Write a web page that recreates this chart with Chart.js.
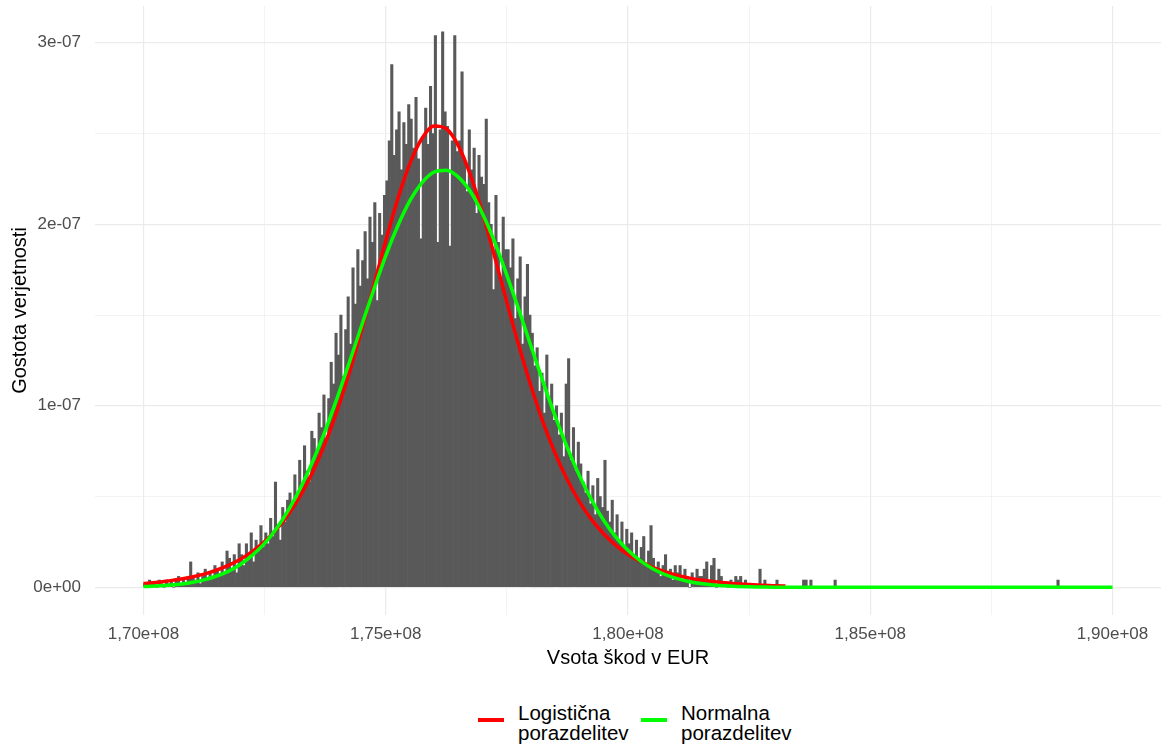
<!DOCTYPE html>
<html>
<head>
<meta charset="utf-8">
<script src="https://cdn.jsdelivr.net/npm/chart.js@4/dist/chart.umd.min.js"></script>
<style>
  body { margin: 0; background: #fff; font-family: "Liberation Sans", Arial, sans-serif; }
  #wrap { position: relative; width: 1161px; height: 747px; }
  canvas { position: absolute; left: 0; top: 0; }
  .swatch { position: absolute; width: 26px; height: 4px; top: 718px; }
  .label { position: absolute; top: 703px; font-size: 20.5px; line-height: 20px; color: #000; }
</style>
</head>
<body>
<div id="wrap">
  <canvas id="chart" width="1161" height="680"></canvas>
  <div class="swatch" style="left:478px;background:#FF0000"></div>
  <div class="label" style="left:518px">Logistična<br>porazdelitev</div>
  <div class="swatch" style="left:641px;background:#00FF00"></div>
  <div class="label" style="left:681px">Normalna<br>porazdelitev</div>
</div>
<script>
// x in millions of EUR, y in units of 1e-9
const binStart = 170;
const binWidth = 0.05;

// histogram density per bin
const histDensity = [
    2, 0, 4, 2, 2, 0, 4, 2, 0, 4,
    2, 4, 0, 4, 6, 2, 4, 2, 6, 14,
    6, 4, 8, 2, 6, 10, 4, 8, 6, 12,
    10, 6, 14, 8, 20, 16, 10, 18, 8, 24,
    18, 12, 24, 16, 30, 14, 26, 20, 34, 22,
    30, 24, 38, 28, 58, 32, 26, 44, 36, 48,
    52, 44, 62, 48, 70, 56, 78, 64, 58, 86,
    82, 74, 96, 88, 106, 80, 104, 124, 112, 140,
    128, 150, 116, 142, 160, 134, 176, 156, 186, 166,
    180, 196, 170, 204, 190, 212, 158, 206, 194, 216,
    224, 246, 288, 238, 252, 262, 230, 256, 244, 266,
    258, 242, 270, 236, 192, 248, 264, 244, 276, 250,
    304, 190, 252, 306, 262, 254, 188, 246, 304, 240,
    246, 284, 236, 218, 252, 230, 242, 206, 238, 226,
    222, 258, 212, 200, 164, 216, 190, 170, 204, 186,
    186, 176, 192, 148, 170, 182, 134, 160, 178, 150,
    140, 122, 132, 108, 118, 96, 128, 104, 112, 92,
    100, 84, 96, 72, 112, 126, 70, 88, 64, 80,
    68, 58, 52, 64, 46, 56, 40, 60, 50, 44,
    70, 42, 36, 48, 30, 40, 26, 36, 22, 32,
    24, 30, 18, 26, 14, 22, 28, 12, 20, 34,
    16, 10, 14, 6, 12, 18, 8, 10, 4, 12,
    8, 12, 4, 10, 6, 0, 8, 4, 10, 6,
    6, 10, 14, 4, 12, 16, 0, 10, 6, 2,
    2, 0, 4, 0, 6, 4, 6, 0, 4, 0,
    0, 0, 0, 0, 10, 0, 4, 0, 0, 0,
    0, 4, 0, 0, 0, 0, 0, 0, 0, 0,
    0, 0, 4, 4, 0, 4, 0, 0, 0, 0,
    0, 0, 0, 0, 0, 4, 0, 0, 0, 0
];
// lone bar far in the right tail
const tailBinX = [188.875];
const tailBinY = [4];

const curveX = [
    170, 170.25, 170.5, 170.75, 171, 171.25, 171.5, 171.75, 172, 172.25,
    172.5, 172.75, 173, 173.25, 173.5, 173.75, 174, 174.25, 174.5, 174.75,
    175, 175.25, 175.5, 175.75, 176, 176.25, 176.5, 176.75, 177, 177.25,
    177.5, 177.75, 178, 178.25, 178.5, 178.75, 179, 179.25, 179.5, 179.75,
    180, 180.25, 180.5, 180.75, 181, 181.25, 181.5, 181.75, 182, 182.25,
    182.5, 182.75, 183, 183.25
];
const logisY = [
    2.1, 2.7, 3.5, 4.4, 5.7, 7.3, 9.4, 12.1, 15.5, 19.8,
    25.2, 32.1, 40.6, 51.1, 64, 79.4, 97.6, 118.3, 141.4, 166,
    190.8, 214, 233.5, 247.4, 254.1, 252.6, 243.2, 227, 205.9, 182,
    157.1, 132.9, 110.6, 90.7, 73.6, 59.1, 47.1, 37.3, 29.4, 23.1,
    18.1, 14.4, 11.2, 8.7, 6.7, 5.2, 4.1, 3.2, 2.5, 1.9,
    1.5, 1.1, 0.9, 0.7
];
const normY = [
    0.4, 0.7, 1.1, 1.7, 2.7, 4.1, 6.1, 8.8, 12.6, 17.7,
    24.2, 32.6, 42.9, 55.3, 69.8, 86.2, 104.5, 124, 144, 163.8,
    182.6, 199.2, 213, 223, 228.8, 229.8, 226, 217.9, 205.7, 190.2,
    172, 152.7, 132.7, 112.9, 94, 76.8, 61.4, 48.1, 36.8, 27.7,
    20.4, 14.7, 10.4, 7.2, 4.9, 3.2, 2.1, 1.3, 0.8, 0.5,
    0.3, 0.2, 0.1, 0.05
];
const normTailX = [184, 186, 188, 190];
const normTailY = [0, 0, 0, 0];

const xTicks = [170, 172.5, 175, 177.5, 180, 182.5, 185, 187.5, 190];
const xTickLabels = ['1,70e+08', '', '1,75e+08', '', '1,80e+08', '', '1,85e+08', '', '1,90e+08'];
const yTicks = [0, 50, 100, 150, 200, 250, 300];
const yTickLabels = ['0e+00', '', '1e-07', '', '2e-07', '', '3e-07'];

const histPoints = histDensity.map((v, i) => ({ x: binStart + binWidth * (i + 0.5), y: v }))
    .concat(tailBinX.map((x, i) => ({ x: x, y: tailBinY[i] })));
const logisPoints = curveX.map((x, i) => ({ x: x, y: logisY[i] }));
const normPoints = curveX.map((x, i) => ({ x: x, y: normY[i] }))
    .concat(normTailX.map((x, i) => ({ x: x, y: normTailY[i] })));

const fontFamily = '"Liberation Sans", Arial, sans-serif';
const gridWidth = (ticks, labels) => ctx => {
    const i = ticks.indexOf(ctx.tick && ctx.tick.value);
    return i >= 0 && labels[i] !== '' ? 1.2 : 0.6;
};
// keep the panel edges where ggplot puts them
const noEdgePadding = s => {
    s.paddingTop = 0; s.paddingBottom = 0;
    s.paddingLeft = 0; s.paddingRight = 0;
};

new Chart(document.getElementById('chart'), {
    type: 'bar',
    data: {
        datasets: [
            {
                type: 'line',
                data: normPoints,
                borderColor: '#00FF00',
                borderWidth: 3.5,
                pointRadius: 0,
                cubicInterpolationMode: 'monotone',
                order: 0
            },
            {
                type: 'line',
                data: logisPoints,
                borderColor: '#FF0000',
                borderWidth: 3.5,
                pointRadius: 0,
                cubicInterpolationMode: 'monotone',
                order: 1
            },
            {
                type: 'bar',
                data: histPoints,
                backgroundColor: '#595959',
                borderWidth: 0,
                barPercentage: 1,
                categoryPercentage: 1,
                order: 2
            }
        ]
    },
    options: {
        responsive: false,
        animation: false,
        devicePixelRatio: 1,
        layout: { padding: { top: 6, right: 0, bottom: 0, left: 0 } },
        plugins: { legend: { display: false }, tooltip: { enabled: false } },
        scales: {
            x: {
                type: 'linear',
                min: 169,
                max: 191,
                offset: false,
                border: { display: false },
                grid: { offset: false, drawTicks: false, color: '#EBEBEB', lineWidth: gridWidth(xTicks, xTickLabels) },
                afterBuildTicks: s => { s.ticks = xTicks.map(v => ({ value: v })); },
                afterFit: s => { s.height = 65; noEdgePadding(s); },
                ticks: {
                    autoSkip: false,
                    maxRotation: 0,
                    padding: 9,
                    color: '#4D4D4D',
                    font: { family: fontFamily, size: 17 },
                    callback: v => xTickLabels[xTicks.indexOf(v)] ?? ''
                },
                title: {
                    display: true,
                    text: 'Vsota škod v EUR',
                    color: '#000',
                    font: { family: fontFamily, size: 20 },
                    padding: { top: 0, bottom: 10 }
                }
            },
            y: {
                min: -15.25,
                max: 320.25,
                border: { display: false },
                grid: { drawTicks: false, color: '#EBEBEB', lineWidth: gridWidth(yTicks, yTickLabels) },
                afterBuildTicks: s => { s.ticks = yTicks.map(v => ({ value: v })); },
                afterFit: s => { s.width = 95; noEdgePadding(s); },
                ticks: {
                    autoSkip: false,
                    padding: 14,
                    color: '#4D4D4D',
                    font: { family: fontFamily, size: 17 },
                    callback: v => yTickLabels[yTicks.indexOf(v)] ?? ''
                },
                title: {
                    display: true,
                    text: 'Gostota verjetnosti',
                    color: '#000',
                    font: { family: fontFamily, size: 20 },
                    padding: { top: 8, bottom: 0 }
                }
            }
        }
    }
});
</script>
</body>
</html>
